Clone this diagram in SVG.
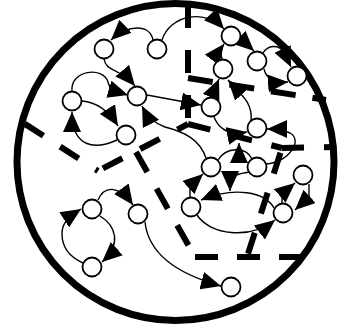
<svg xmlns="http://www.w3.org/2000/svg" width="338" height="329" viewBox="0 0 338 329">
<style>
.node{fill:#fff;stroke:#000;stroke-width:1.8}
.edge{fill:none;stroke:#000;stroke-width:1.4;marker-end:url(#ah)}
.plain{fill:none;stroke:#000;stroke-width:1.4}
.part{fill:none;stroke:#000;stroke-width:6;stroke-dasharray:22 20}
</style>
<defs>
<marker id="ah" viewBox="0 0 20 18" refX="20" refY="9" markerWidth="20" markerHeight="18" markerUnits="userSpaceOnUse" orient="auto"><path d="M0,0 L20,9 L0,18 z" fill="#000"/></marker>
</defs>
<rect width="338" height="329" fill="#fff"/>
<g id="border">
<circle cx="175.5" cy="162" r="158.5" fill="none" stroke="#000" stroke-width="7"/>
</g>
<g id="partitions">
<path class="part" d="M188,5 L188,124" style="stroke-dasharray:23 22"/>
<path class="part" d="M188,78 L326,100" style="stroke-dasharray:25 17"/>
<path class="part" d="M188,124 L98,171" style="stroke-dashoffset:10"/>
<path class="part" d="M98,171 L22,122" style="stroke-dashoffset:19"/>
<path class="part" d="M188,124 L282,148" style="stroke-dasharray:23 20"/>
<path class="part" d="M282,148 L334,147"/>
<path class="part" d="M282,148 L247,257" style="stroke-dashoffset:-5"/>
<path class="part" d="M136,152 L195,257" style="stroke-dasharray:23 19"/>
<path class="part" d="M195,257 L305,257" style="stroke-dasharray:23 19"/>
</g>
<g id="connectors">
<path class="edge" d="M153,40 C150,24 128,24 111,40"/>
<path class="edge" d="M162,40 C170,15 205,8 224,29"/>
<path class="edge" d="M104,59 C106,72 120,68 135,86"/>
<path class="edge" d="M72,91 C70,70 103,66 108,82 S118,92 128,95"/>
<path class="edge" d="M82,101 C95,102 108,110 118,126"/>
<path class="edge" d="M117,140 C95,150 72,148 72,112"/>
<path class="edge" d="M206,158 C200,140 185,132 165,127 C156,124 148,118 142,106"/>
<path class="edge" d="M147,95 L201,105"/>
<path class="edge" d="M222,59 C220,52 221,48 224,44"/>
<path class="edge" d="M240,38 L254,51"/>
<path class="edge" d="M263,53 C268,45 278,44 284,52 L291,67"/>
<path class="edge" d="M264,69 C266,78 274,83 288,82"/>
<path class="edge" d="M212,97 C213,91 216,86 219,79"/>
<path class="edge" d="M251,121 C253,104 243,96 228,80"/>
<path class="edge" d="M214,117 C220,132 232,135 247,132"/>
<path class="edge" d="M266,164 C290,162 303,140 290,133 C283,130 275,129 267,129"/>
<path class="plain" d="M218,160 C226,147 246,146 252,159"/>
<path class="edge" d="M239,160 L239,143"/>
<path class="edge" d="M250,172 C240,174 230,172 230,191"/>
<path class="edge" d="M190,197 L190,186 L203,174"/>
<path class="edge" d="M274,208 C265,192 235,186 201,200"/>
<path class="edge" d="M197,215 C210,235 250,240 275,220"/>
<path class="edge" d="M282,203 L282,194 L295,183"/>
<path class="edge" d="M309,184 L309,197 L295,210"/>
<path class="edge" d="M98,200 C104,186 118,184 133,205"/>
<path class="edge" d="M83,263 C72,258 62,250 62,234 C62,226 64,220 81,209"/>
<path class="edge" d="M100,216 C116,226 122,244 102,262"/>
<path class="edge" d="M145,222 C148,250 170,272 221,286"/>
</g>
<g id="n1"><circle class="node" cx="104" cy="49" r="9.5"/></g>
<g id="n2"><circle class="node" cx="157" cy="49" r="9.5"/></g>
<g id="n3"><circle class="node" cx="231" cy="36" r="9.5"/></g>
<g id="n4"><circle class="node" cx="223" cy="69" r="9.5"/></g>
<g id="n5"><circle class="node" cx="257" cy="61" r="9.5"/></g>
<g id="n6"><circle class="node" cx="297" cy="76" r="9.5"/></g>
<g id="n7"><circle class="node" cx="72" cy="101" r="9.5"/></g>
<g id="n8"><circle class="node" cx="137" cy="96" r="9.5"/></g>
<g id="n9"><circle class="node" cx="126" cy="135" r="9.5"/></g>
<g id="n10"><circle class="node" cx="211" cy="107" r="9.5"/></g>
<g id="n11"><circle class="node" cx="257" cy="128" r="9.5"/></g>
<g id="n12"><circle class="node" cx="211" cy="167" r="9.5"/></g>
<g id="n13"><circle class="node" cx="257" cy="167" r="9.5"/></g>
<g id="n14"><circle class="node" cx="303" cy="175" r="9.5"/></g>
<g id="n15"><circle class="node" cx="191" cy="207" r="9.5"/></g>
<g id="n16"><circle class="node" cx="283" cy="213" r="9.5"/></g>
<g id="n17"><circle class="node" cx="92" cy="209" r="9.5"/></g>
<g id="n18"><circle class="node" cx="138" cy="214" r="9.5"/></g>
<g id="n19"><circle class="node" cx="92" cy="267" r="9.5"/></g>
<g id="n20"><circle class="node" cx="231" cy="287" r="9.5"/></g>
</svg>
